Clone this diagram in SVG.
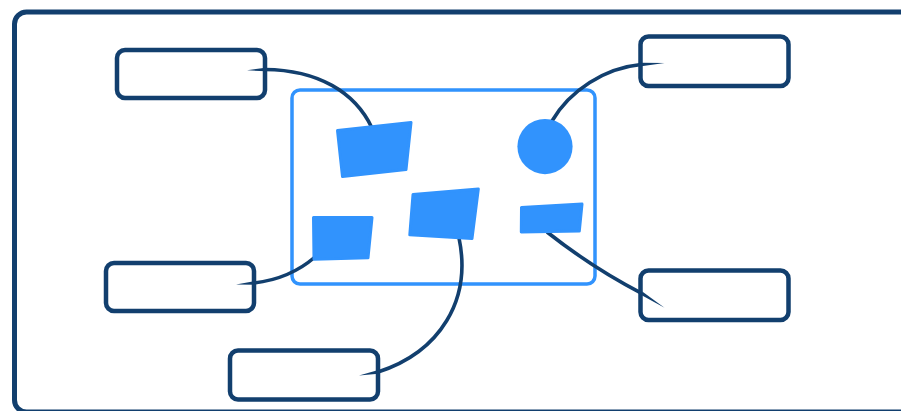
<svg xmlns="http://www.w3.org/2000/svg" width="901" height="411" viewBox="0 0 901 411">
<style>
.frame{fill:#fff;stroke:#123f6e;stroke-width:5}
.area{fill:none;stroke:#3193fd;stroke-width:3.5}
.box{fill:#fff;stroke:#123f6e;stroke-width:4.5}
.shape{fill:#3193fd;stroke:#3193fd;stroke-width:3;stroke-linejoin:round}
.link{fill:none;stroke:#123f6e;stroke-width:3.6;stroke-linecap:butt}
.tip{fill:#123f6e}
</style>
<rect class="frame" x="14.5" y="12" width="900" height="400" rx="12"/>
<g id="area"><rect class="area" x="292" y="90" width="303" height="194" rx="8"/></g>
<g id="box1"><rect class="box" x="117" y="50" width="148" height="48" rx="8"/></g>
<g id="box2"><rect class="box" x="106" y="263" width="148" height="48" rx="8"/></g>
<g id="box3"><rect class="box" x="230" y="350.5" width="148" height="49" rx="8"/></g>
<g id="box4"><rect class="box" x="640.5" y="36.5" width="148" height="49.5" rx="8"/></g>
<g id="box5"><rect class="box" x="640.5" y="270.5" width="148" height="49.5" rx="8"/></g>
<g id="connectors">
<path class="link" d="M265,69.5 C318,70 355,92 372,128"/>
<path class="tip" d="M265.5,67.7 L265.5,71.3 L247,70.3 Z"/>
<path class="link" d="M254,283 C280,280 300,270 315,257"/>
<path class="tip" d="M254,281.2 L254.5,284.8 L236,284.6 Z"/>
<path class="link" d="M378,372 C440,352 472,300 459,238"/>
<path class="tip" d="M377.5,370.2 L378.5,373.8 L359,375.6 Z"/>
<path class="link" d="M641,64.5 C605,68 570,90 552,121"/>
<path class="tip" d="M641,62.7 L641.3,66.3 L664.5,63 Z"/>
<path class="link" d="M547,232 C580,258 612,278 641.7,293.3"/>
<path class="tip" d="M642.6,291.8 L640.8,294.8 L664.5,307.7 Z"/>
</g>
<g id="shape1"><path class="shape" d="M337.5,130.5 L411,122.5 L406,169.5 L342.5,176.5 Z"/></g>
<g id="shape2"><circle cx="545" cy="146.6" r="27.6" fill="#3193fd"/></g>
<g id="shape3"><path class="shape" d="M313.5,217.5 L372,217.5 L368,257.8 L314,259.2 Z"/></g>
<g id="shape4"><path class="shape" d="M413,194.5 L478.3,189 L472,238.5 L409.8,234.8 Z"/></g>
<g id="shape5"><path class="shape" d="M521.5,207.5 L582,204 L579.3,231 L521.3,232 Z"/></g>
</svg>
